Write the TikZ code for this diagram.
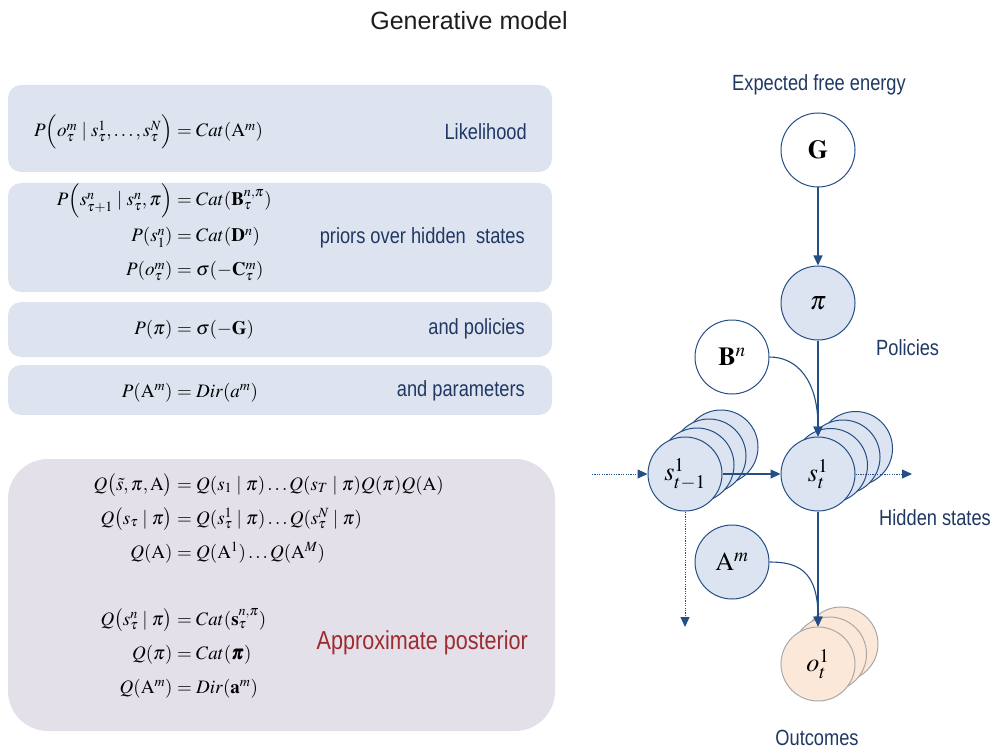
\documentclass[tikz,border=0pt]{standalone}
\usepackage{mathptmx}
\usepackage{bm}
\usepackage[no-math]{fontspec}
\setmainfont{Liberation Sans}
\newfontfamily\narrowfont[FakeStretch=0.83]{Liberation Sans}
\usetikzlibrary{arrows.meta}
\definecolor{navy}{HTML}{1F3864}
\definecolor{edge}{HTML}{244E86}
\definecolor{boxblue}{HTML}{DDE4F0}
\definecolor{boxlav}{HTML}{E4E0EA}
\definecolor{nodeblue}{HTML}{DCE4F1}
\definecolor{peach}{HTML}{FCE8D9}
\definecolor{peachedge}{HTML}{A8A8A8}
\definecolor{postred}{HTML}{9E2B2F}
\definecolor{titlegray}{HTML}{1E1E1E}
% one equation: name, baseline y, left-hand side, right-hand side (aligned at the = sign)
\newcommand\eqline[4]{%
  \node[eql] (#1l) at (177,#2) {$#3\mkern4mu$};
  \node[eqr] (#1r) at (177,#2) {$\mathord{=}\mkern4mu#4$};}
\begin{document}
\begin{tikzpicture}[x=1pt,y=-1pt,
  eqfont/.style={inner sep=0pt, font=\fontsize{19}{23}\selectfont},
  eql/.style={eqfont, anchor=base east},
  eqr/.style={eqfont, anchor=base west},
  lab/.style={anchor=east, inner sep=0pt, text=navy, font=\narrowfont\fontsize{22}{26}\selectfont},
  glab/.style={inner sep=0pt, text=navy, font=\narrowfont\fontsize{22}{26}\selectfont},
  circ/.style={circle, draw=edge, line width=1pt, minimum size=74pt, inner sep=0pt, font=\fontsize{26}{30}\selectfont},
  wnode/.style={circ, fill=white},
  bnode/.style={circ, fill=nodeblue},
  onode/.style={circ, fill=peach, draw=peachedge},
  arr/.style={draw=edge, line width=1.1pt, -{Triangle[length=10pt,width=9pt]}},
  dotarr/.style={arr, line width=1pt, dash pattern=on 1.2pt off 1.2pt},
  panel/.style={fill=boxblue, rounded corners=13pt}
]
\useasboundingbox (0,0) rectangle (995,751);

% title
\node[font=\fontsize{25}{30}\selectfont, text=titlegray, inner sep=0pt] (title) at (469,21) {Generative model};

% panels
\fill[panel] (8,85) rectangle (552,172);
\fill[panel] (8,183) rectangle (552,292);
\fill[panel] (8,302) rectangle (552,357);
\fill[panel] (8,365) rectangle (552,415);
\fill[fill=boxlav, rounded corners=40pt] (8,459) rectangle (555,731);

% generative model equations
\eqline{e1}{137}{P\Big(o_\tau^m \mid s_\tau^1,\ldots,s_\tau^N\Big)}{Cat(\mathrm{A}^m)}
\eqline{e2}{206}{P\Big(s_{\tau+1}^n \mid s_\tau^n,\pi\Big)}{Cat(\mathbf{B}_\tau^{n,\pi})}
\eqline{e3}{242}{P(s_1^n)}{Cat(\mathbf{D}^n)}
\eqline{e4}{276}{P(o_\tau^m)}{\sigma(-\mathbf{C}_\tau^m)}
\eqline{e5}{334}{P(\pi)}{\sigma(-\mathbf{G})}
\eqline{e6}{397}{P(\mathrm{A}^m)}{Dir(a^m)}

\node[lab] (l1) at (527,132) {Likelihood};
\node[lab] (l2) at (525,238) {priors over hidden\ \ states};
\node[lab] (l3) at (525,329) {and policies};
\node[lab] (l4) at (525,391) {and parameters};

% approximate posterior
\eqline{q1}{490}{Q\big(\tilde{s},\pi,\mathrm{A}\big)}{Q(s_1\mid\pi)\ldots Q(s_T\mid\pi)Q(\pi)Q(\mathrm{A})}
\eqline{q2}{524}{Q\big(s_\tau\mid\pi\big)}{Q(s_\tau^1\mid\pi)\ldots Q(s_\tau^N\mid\pi)}
\eqline{q3}{558}{Q(\mathrm{A})}{Q(\mathrm{A}^1)\ldots Q(\mathrm{A}^M)}
\eqline{q4}{625}{Q\big(s_\tau^n\mid\pi\big)}{Cat(\mathbf{s}_\tau^{n,\pi})}
\eqline{q5}{659}{Q(\pi)}{Cat(\bm{\pi})}
\eqline{q6}{693}{Q(\mathrm{A}^m)}{Dir(\mathbf{a}^m)}
\node[lab, text=postred, font=\narrowfont\fontsize{26}{30}\selectfont] (lpost) at (528,643) {Approximate posterior};

% graph labels
\node[glab] (lefe) at (819,85) {Expected free energy};
\node[glab, anchor=west] (lpol) at (876,348) {Policies};
\node[glab, anchor=west] (lhid) at (879,518) {Hidden states};
\node[glab] (lout) at (817,738) {Outcomes};

% graph nodes
\node[wnode] (G) at (818,150) {$\mathbf{G}$};
\node[bnode] (pi) at (818,303) {$\pi$};
\node[wnode] (B) at (732,357) {$\mathbf{B}^n$};

\foreach \k in {3,2,1}
  \node[bnode] (sp\k) at ({685+12*\k},{474-9*\k}) {};
\node[bnode] (sp) at (685,474) {$s^1_{t-1}$};

\foreach \k in {3,2,1}
  \node[bnode] (st\k) at ({818+12.5*\k},{474-8.5*\k}) {};
\node[bnode] (st) at (818,474) {$s^1_t$};

\node[bnode] (A) at (732,562) {$\mathrm{A}^m$};

\foreach \k in {2,1}
  \node[onode] (o\k) at ({818+11.5*\k},{664-10*\k}) {};
\node[onode] (o) at (818,664) {$o^1_t$};

% free ends of the dotted connectors
\coordinate (din) at (592,474);
\coordinate (dout) at (912,474);
\coordinate (ddown) at (685,627);

% connectors
\draw[arr] (G) -- (pi);
\draw[arr] (pi) -- (st);
\draw[arr] (B.east) .. controls +(27,0) and +(0,-57) .. (st.north);
\draw[arr] (sp) -- (st);
\draw[dotarr] (din) -- (sp.west);
\draw[dotarr] (st.east) -- (dout);
\draw[dotarr] (sp.south) -- (ddown);
\draw[arr] (st) -- (o);
\draw[arr] (A.east) .. controls +(27,0) and +(0,-57) .. (o.north);
\end{tikzpicture}
\end{document}
